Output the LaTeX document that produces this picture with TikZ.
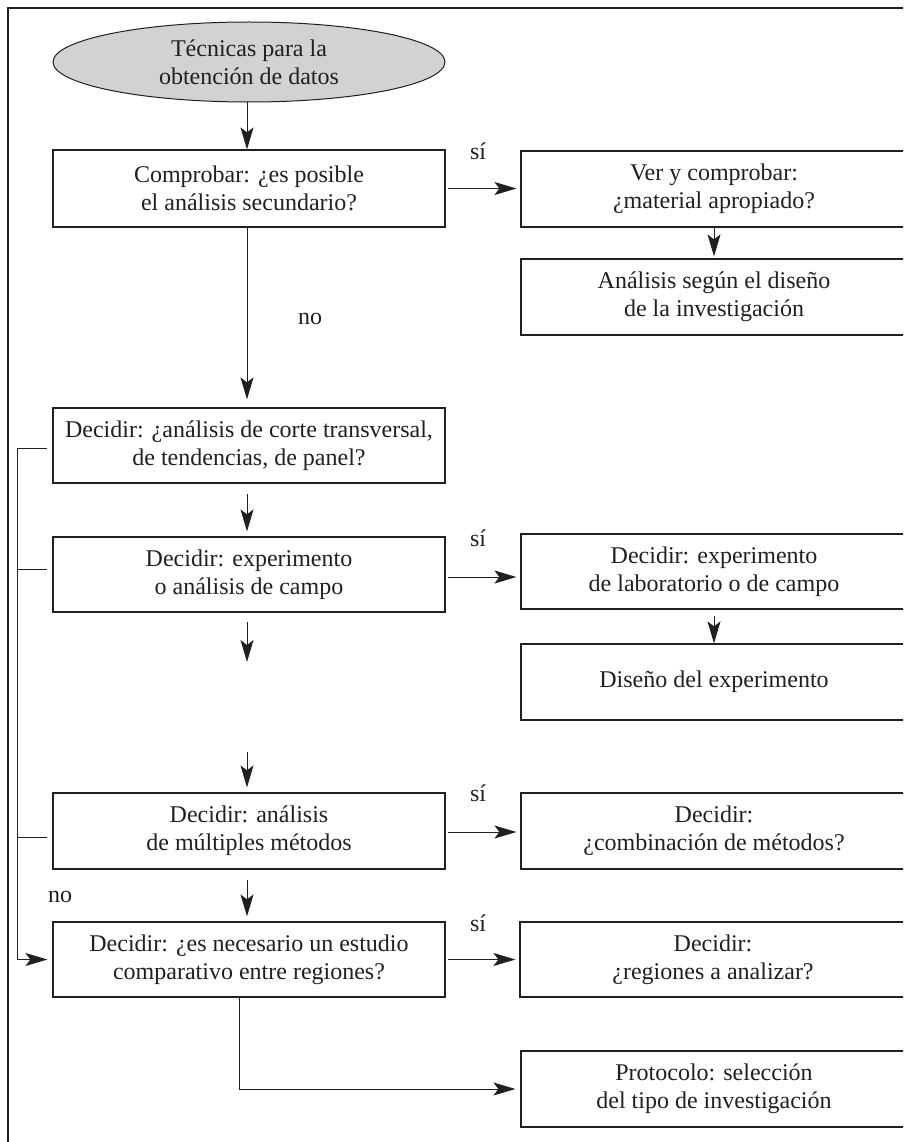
\documentclass[tikz,border=0pt]{standalone}
\usepackage{fontspec}
\setmainfont{Liberation Serif}
\usetikzlibrary{arrows.meta,shapes.geometric}
\definecolor{ink}{RGB}{35,31,32}
\definecolor{elfill}{RGB}{210,210,210}
\begin{document}
\begin{tikzpicture}[x=1pt,y=1pt,
  every node/.style={font=\fontsize{24}{28}\selectfont, text=ink},
  box/.style={draw=ink, line width=1.2pt, rectangle, align=center, inner sep=0pt, minimum height=76pt},
  lbox/.style={box, minimum width=392pt},
  rbox/.style={box, minimum width=386pt},
  conn/.style={draw=ink, line width=1pt},
  arr/.style={conn, -{Stealth[length=22pt,width=13pt,inset=5pt]}},
  lab/.style={anchor=base, inner sep=0pt}
]
\useasboundingbox (0,0) rectangle (903,-1142);
\clip (0,0) rectangle (903,-1142);
\fill[white] (0,0) rectangle (903,-1142);

% outer frame
\draw[draw=ink, line width=1.3pt] (8,-1160) -- (8,-8) -- (920,-8);

% nodes
\node[ellipse, draw=ink, fill=elfill, line width=1pt, minimum width=392pt, minimum height=80pt, inner sep=0pt, align=center] (el) at (249,-62) {Técnicas para la\\obtención de datos};

\node[lbox, minimum height=77pt] (b1) at (249,-188.5) {Comprobar: ¿es posible\\el análisis secundario?};
\node[lbox, minimum height=75pt] (b3) at (249,-445.5) {Decidir: ¿análisis de corte transversal,\\de tendencias, de panel?};
\node[lbox, minimum height=75pt] (b4) at (249,-574.5) {Decidir: experimento\\o análisis de campo};
\node[lbox] (b5) at (249,-831) {Decidir: análisis\\de múltiples métodos};
\node[lbox, minimum height=75pt] (b6) at (249,-959.5) {Decidir: ¿es necesario un estudio\\comparativo entre regiones?};

\node[rbox] (r1) at (714,-189) {Ver y comprobar:\\¿material apropiado?};
\node[rbox] (r2) at (714,-297) {Análisis según el diseño\\de la investigación};
\node[rbox, minimum height=75pt] (r4) at (714,-571.5) {Decidir: experimento\\de laboratorio o de campo};
\node[rbox] (r4b) at (714,-682) {Diseño del experimento};
\node[rbox] (r5) at (714,-831) {Decidir:\\¿combinación de métodos?};
\node[rbox, minimum height=75pt] (r6) at (713,-959.5) {Decidir:\\¿regiones a analizar?};
\node[rbox] (r7) at (714,-1089) {Protocolo: selección\\del tipo de investigación};

% labels
\node[lab] (si1) at (478,-160) {sí};
\node[lab] (si4) at (478,-546) {sí};
\node[lab] (si5) at (478,-801) {sí};
\node[lab] (si6) at (478,-931) {sí};
\node[lab] (no1) at (310,-324) {no};
\node[lab] (no2) at (60,-902) {no};

% helper coordinates
\coordinate (mx) at (247,0);
\coordinate (lx) at (17,0);
\coordinate (fa1) at (247,-622);
\coordinate (fa2) at (247,-662);
\coordinate (fb1) at (247,-752);

% main column arrows
\draw[arr] (el.south -| mx) -- (b1.north -| mx);
\draw[arr, shorten >=8pt] (b1.south -| mx) -- (b3.north -| mx);
\draw[arr, shorten <=10pt, shorten >=5pt] (b3.south -| mx) -- (b4.north -| mx);
\draw[arr] (fa1) -- (fa2);
\draw[arr, shorten >=5pt] (fb1) -- (b5.north -| mx);
\draw[arr, shorten <=10pt, shorten >=5pt] (b5.south -| mx) -- (b6.north -| mx);

% right column arrows
\draw[arr, shorten >=2pt] (r1.south) -- (r2.north);
\draw[arr, shorten <=6pt] (r4.south) -- (r4b.north);

% si arrows
\draw[arr, shorten <=2pt, shorten >=4pt] (b1.east) -- (b1.east -| r1.west);
\draw[arr, shorten <=2pt, shorten >=4pt] ([yshift=-2.5pt]b4.east) -- ([yshift=-2.5pt]b4.east -| r4.west);
\draw[arr, shorten <=2pt, shorten >=4pt] ([yshift=-1pt]b5.east) -- ([yshift=-1pt]b5.east -| r5.west);
\draw[arr, shorten <=2pt, shorten >=4pt] (b6.east) -- (b6.east -| r6.west);

% left bracket
\draw[conn] ([shift={(-5pt,-2.5pt)}]b3.west) -- ([yshift=-2.5pt]b3.west -| lx) -- (b6.west -| lx);
\draw[conn] ([shift={(-5pt,5.5pt)}]b4.west) -- ([yshift=5.5pt]b4.west -| lx);
\draw[conn] ([shift={(-5pt,-6pt)}]b5.west) -- ([yshift=-6pt]b5.west -| lx);
\draw[arr, shorten >=5pt] (b6.west -| lx) -- (b6.west);

% bottom connector
\draw[arr, shorten >=5pt] ([xshift=-10pt]b6.south) |- (r7.west);
\end{tikzpicture}
\end{document}
